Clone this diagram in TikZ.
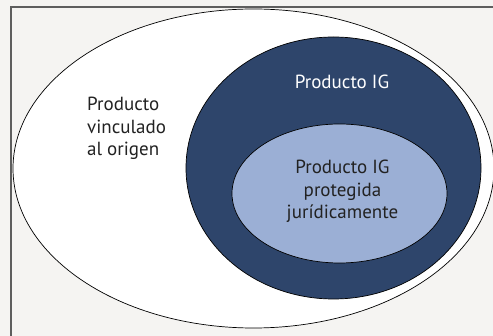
\documentclass[tikz,border=0pt]{standalone}
\usepackage{fontspec}
\setmainfont{PT Sans}
\usetikzlibrary{shapes.geometric}
\definecolor{bgc}{HTML}{F5F4F2}
\definecolor{framec}{HTML}{5E5E5E}
\definecolor{navy}{HTML}{2E456B}
\definecolor{lightblue}{HTML}{9BAFD5}
\definecolor{txt}{HTML}{222222}
\tikzset{
  lbl/.style={font=\fontsize{19}{22.5}\selectfont, inner sep=0pt, align=center},
  ring/.style={draw=black, line width=0.7pt},
}
\begin{document}
\begin{tikzpicture}[x=1pt,y=-1pt]
\useasboundingbox (0,0) rectangle (493,336);
\clip (0,0) rectangle (493,336);
\fill[bgc] (0,0) rectangle (493,336);
\draw[framec, line width=2pt] (11,7.5) rectangle (520,360);
\draw[ring, fill=white] (253.5,168.5) ellipse [x radius=240.5, y radius=159.5];
\draw[ring, fill=navy] (333.5,168) ellipse [x radius=147.5, y radius=131];
\draw[ring, fill=lightblue] (339.5,193.5) ellipse [x radius=107.5, y radius=69.5];
\node[lbl, text=white, anchor=base] (ig) at (342,89) {Producto IG};
\node[lbl, text=txt, anchor=base west, align=left] (vinc) at (87,156) {Producto\\vinculado\\al origen};
\node[lbl, text=txt, anchor=base] (prot) at (342.5,219) {Producto IG\\protegida\\jurídicamente};
\end{tikzpicture}
\end{document}
